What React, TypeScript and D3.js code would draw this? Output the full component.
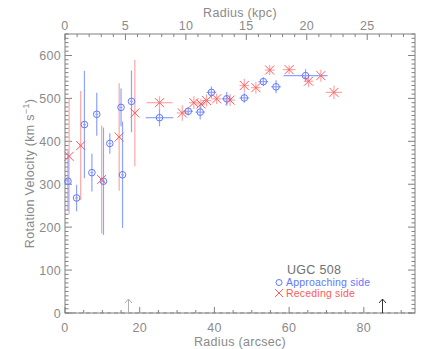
import * as d3 from "d3";

// approaching side (blue circles)
const apprR = [0.8, 3.1, 5.2, 7.2, 8.5, 10.3, 12.0, 15.0, 15.4, 17.8, 25.3, 33.0, 36.2, 39.2, 43.3, 48.0, 53.1, 56.5, 64.4];
const apprV = [307, 268, 439, 327, 463, 307, 395, 479, 322, 493, 455, 470, 468, 514, 499, 501, 539, 527, 553];
const apprVErr = [70, 31, 125, 44, 50, 125, 24, 44, 124, 72, 20, 10, 17, 14, 16, 11, 10, 15, 15];
const apprRErr = [0.4, 0.4, 0.4, 0.4, 0.4, 0.4, 0.4, 0.4, 0.4, 0.4, 3.7, 1.3, 1.3, 1.3, 1.3, 1.3, 1.3, 1.3, 5.9];

// receding side (red crosses)
const recR = [1.1, 4.2, 9.8, 14.5, 18.7, 25.3, 31.4, 34.5, 36.4, 37.9, 40.6, 44.2, 48.0, 51.1, 54.8, 60.0, 65.2, 68.5, 72.0];
const recV = [365, 390, 311, 410, 466, 490, 466, 490, 487, 495, 499, 496, 530, 525, 566, 567, 540, 553, 514];
const recVErr = [135, 127, 126, 125, 124, 15, 18, 15, 12, 14, 12, 14, 16, 14, 12, 10, 14, 14, 16];
const recRErr = [0.4, 0.4, 0.4, 0.4, 0.4, 3.5, 1.5, 1.3, 1.3, 1.3, 1.3, 1.3, 1.3, 1.3, 1.3, 1.7, 1.3, 1.3, 2.2];

const arcsecTicks = [0, 20, 40, 60, 80];
const kpcTicks = [0, 5, 10, 15, 20, 25];
const velTicks = [0, 100, 200, 300, 400, 500, 600];
const arrowAt = [17, 85];

const KPC_PER_ARCSEC = 0.309;
const W = 436;
const H = 349;
const m = { left: 65, right: 415, top: 34, bottom: 313 };
const axisCol = "#808080";
const textCol = "#8a8a8a";
const blue = "#6078ff";
const blueBar = "#8ea2ff";
const red = "#ff5a5a";
const redBar = "#ffa6a6";
const font = "Liberation Sans, Arial, sans-serif";

export default function App() {
  const x = d3.scaleLinear().domain([0, 93.7]).range([m.left, m.right]);
  const xk = d3.scaleLinear().domain([0, 93.7 * KPC_PER_ARCSEC]).range([m.left, m.right]);
  const y = d3.scaleLinear().domain([0, 650]).range([m.bottom, m.top]);

  const minorX = d3.range(0, 93.7, 5);
  const minorK = d3.range(0, 93.7 * KPC_PER_ARCSEC, 1);
  const minorY = d3.range(0, 651, 10);

  const appr = apprR.map((r, i) => ({ r, v: apprV[i], ve: apprVErr[i], re: apprRErr[i] }));
  const rec = recR.map((r, i) => ({ r, v: recV[i], ve: recVErr[i], re: recRErr[i] }));

  return (
    <svg width={W} height={H} style={{ position: "absolute", left: 0, top: 0, background: "#fff" }} fontFamily={font}>
      {/* zero line */}
      <line x1={m.left} x2={m.right} y1={y(0)} y2={y(0)} stroke="#999" strokeDasharray="4,3" />
      {/* frame */}
      <rect x={m.left} y={m.top} width={m.right - m.left} height={m.bottom - m.top} fill="none" stroke={axisCol} strokeWidth={1} />

      {/* bottom / top ticks */}
      {minorX.map((t) => (
        <line key={"bx" + t} x1={x(t)} x2={x(t)} y1={m.bottom} y2={m.bottom - (t % 20 === 0 ? 6 : 3)} stroke={axisCol} />
      ))}
      {minorK.map((t) => (
        <line key={"tk" + t} x1={xk(t)} x2={xk(t)} y1={m.top} y2={m.top + (t % 5 === 0 ? 6 : 3)} stroke={axisCol} />
      ))}
      {minorY.map((t) => (
        <g key={"y" + t} stroke={axisCol}>
          <line x1={m.left} x2={m.left + (t % 100 === 0 ? 7 : 3.5)} y1={y(t)} y2={y(t)} />
          <line x1={m.right} x2={m.right - (t % 100 === 0 ? 7 : 3.5)} y1={y(t)} y2={y(t)} />
        </g>
      ))}

      {/* tick labels */}
      <g fill={textCol} fontSize={12.5} letterSpacing={0.3}>
        {arcsecTicks.map((t) => (
          <text key={"xl" + t} x={x(t)} y={332} textAnchor="middle">{t}</text>
        ))}
        {kpcTicks.map((t) => (
          <text key={"kl" + t} x={xk(t)} y={30} textAnchor="middle">{t}</text>
        ))}
        {velTicks.map((t) => (
          <text key={"yl" + t} x={61} y={y(t) + 4.5} textAnchor="end">{t}</text>
        ))}
        <text x={240} y={346} textAnchor="middle">Radius (arcsec)</text>
        <text x={240} y={17} textAnchor="middle">Radius (kpc)</text>
        <text transform={`translate(34,${(m.top + m.bottom) / 2}) rotate(-90)`} textAnchor="middle">
          Rotation Velocity (km s<tspan dy={-5} fontSize={9}>−1</tspan><tspan dy={5}>)</tspan>
        </text>
      </g>

      {/* error bars */}
      {rec.map((d, i) => (
        <g key={"re" + i} stroke={redBar} strokeWidth={1.2}>
          <line x1={x(d.r)} x2={x(d.r)} y1={y(d.v - d.ve)} y2={y(d.v + d.ve)} />
          <line x1={x(d.r - d.re)} x2={x(d.r + d.re)} y1={y(d.v)} y2={y(d.v)} />
        </g>
      ))}
      {appr.map((d, i) => (
        <g key={"ae" + i} stroke={blueBar} strokeWidth={1.2}>
          <line x1={x(d.r)} x2={x(d.r)} y1={y(d.v - d.ve)} y2={y(d.v + d.ve)} />
          <line x1={x(d.r - d.re)} x2={x(d.r + d.re)} y1={y(d.v)} y2={y(d.v)} />
        </g>
      ))}

      {/* markers */}
      {appr.map((d, i) => (
        <circle key={"am" + i} cx={x(d.r)} cy={y(d.v)} r={3.3} fill="none" stroke={blue} strokeWidth={1} />
      ))}
      {rec.map((d, i) => (
        <path
          key={"rm" + i}
          d={`M${x(d.r) - 4.5},${y(d.v) - 4.5}L${x(d.r) + 4.5},${y(d.v) + 4.5}M${x(d.r) - 4.5},${y(d.v) + 4.5}L${x(d.r) + 4.5},${y(d.v) - 4.5}`}
          stroke={red}
          strokeWidth={1}
          fill="none"
        />
      ))}

      {/* arrows */}
      {arrowAt.map((a, i) => (
        <path
          key={"ar" + a}
          d={`M${x(a)},${m.bottom}V${m.bottom - 14}M${x(a) - 3.5},${m.bottom - 10}L${x(a)},${m.bottom - 14}L${x(a) + 3.5},${m.bottom - 10}`}
          stroke={i === 0 ? "#b0b0b0" : "#333"}
          fill="none"
          strokeWidth={1}
        />
      ))}

      {/* legend */}
      <text x={287} y={274} fill="#707070" fontSize={12.5} letterSpacing={0.3}>UGC 508</text>
      <circle cx={279} cy={282.5} r={3} fill="none" stroke={blue} />
      <text x={286} y={286} fill={blue} fontSize={10.5} letterSpacing={0.2}>Approaching side</text>
      <path d="M275,289L283,297M275,297L283,289" stroke={red} fill="none" />
      <text x={286} y={296.5} fill={red} fontSize={10.5} letterSpacing={0.2}>Receding side</text>
    </svg>
  );
}
